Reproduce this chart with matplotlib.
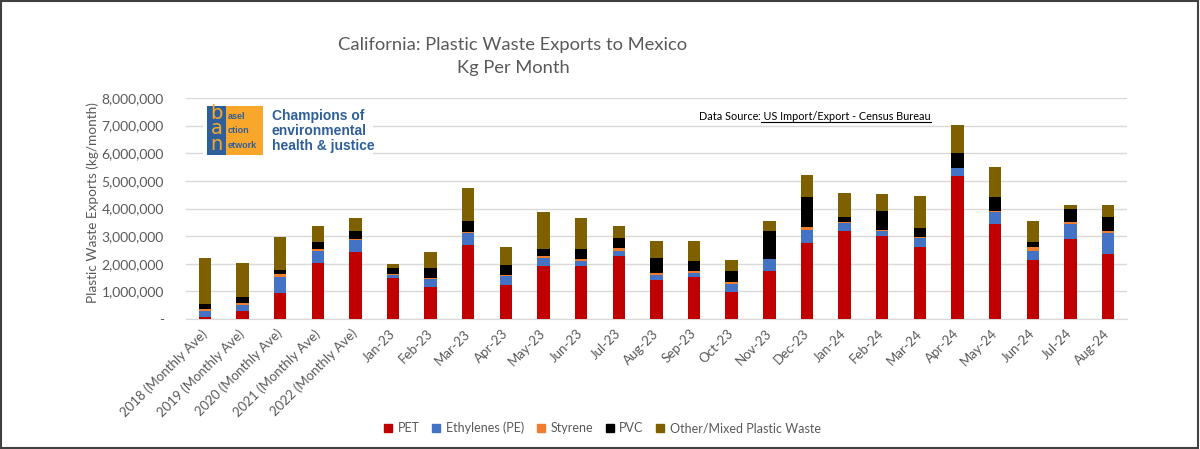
import numpy as np
import matplotlib
matplotlib.use("Agg")
import matplotlib.pyplot as plt
import matplotlib.patches as mpatches
from matplotlib.lines import Line2D
from matplotlib.ticker import FuncFormatter

# --- data (kg per month) ---
categories = [
    "2018 (Monthly Ave)", "2019 (Monthly Ave)", "2020 (Monthly Ave)",
    "2021 (Monthly Ave)", "2022 (Monthly Ave)",
    "Jan-23", "Feb-23", "Mar-23", "Apr-23", "May-23", "Jun-23", "Jul-23",
    "Aug-23", "Sep-23", "Oct-23", "Nov-23", "Dec-23",
    "Jan-24", "Feb-24", "Mar-24", "Apr-24", "May-24", "Jun-24", "Jul-24", "Aug-24",
]
pet = [0.09, 0.28, 0.94, 2.02, 2.43,
       1.47, 1.17, 2.67, 1.24, 1.92, 1.91, 2.27, 1.42, 1.51, 0.97, 1.72, 2.75,
       3.17, 2.99, 2.61, 5.19, 3.44, 2.15, 2.90, 2.35]
ethylenes = [0.19, 0.21, 0.57, 0.45, 0.42,
             0.13, 0.28, 0.46, 0.33, 0.30, 0.20, 0.21, 0.17, 0.17, 0.31, 0.45, 0.49,
             0.29, 0.18, 0.32, 0.26, 0.43, 0.32, 0.55, 0.77]
styrene = [0.10, 0.10, 0.13, 0.08, 0.06,
           0.02, 0.03, 0.03, 0.02, 0.05, 0.06, 0.08, 0.07, 0.06, 0.05, 0.01, 0.08,
           0.04, 0.06, 0.05, 0.03, 0.04, 0.14, 0.05, 0.06]
pvc = [0.17, 0.22, 0.12, 0.23, 0.28,
       0.21, 0.37, 0.38, 0.37, 0.27, 0.36, 0.36, 0.55, 0.36, 0.42, 0.99, 1.09,
       0.20, 0.68, 0.33, 0.52, 0.49, 0.18, 0.50, 0.51]
other = [1.67, 1.22, 1.22, 0.60, 0.46,
         0.17, 0.59, 1.21, 0.65, 1.32, 1.12, 0.43, 0.60, 0.71, 0.39, 0.36, 0.79,
         0.86, 0.60, 1.13, 1.03, 1.10, 0.76, 0.13, 0.44]

series_names = ["PET", "Ethylenes (PE)", "Styrene", "PVC", "Other/Mixed Plastic Waste"]
series_colors = ["#C00000", "#4472C4", "#ED7D31", "#000000", "#7F6000"]

FONT = ["Lato", "DejaVu Sans"]
GREY = "#595959"

plt.rcParams["font.family"] = FONT

fig = plt.figure(figsize=(12, 4.49), dpi=100, facecolor="white")
ax = fig.add_axes([0.155, 0.2895, 0.784, 0.4922])

x = np.arange(len(categories))
bottom = np.zeros(len(categories))
for name, vals, col in zip(series_names, [pet, ethylenes, styrene, pvc, other], series_colors):
    v = np.array(vals) * 1e6
    ax.bar(x, v, width=0.33, bottom=bottom, color=col, label=name, zorder=3)
    bottom += v

ax.set_xlim(-0.5, len(categories) - 0.5)
ax.set_ylim(0, 8e6)
ax.set_yticks(np.arange(0, 8e6 + 1, 1e6))
ax.yaxis.set_major_formatter(FuncFormatter(lambda v, p: "-" if v == 0 else f"{int(v):,}"))
ax.grid(axis="y", color="#d9d9d9", linewidth=1, zorder=0)
ax.set_axisbelow(True)
for s in ["left", "right", "top"]:
    ax.spines[s].set_visible(False)
ax.spines["bottom"].set_color("#d9d9d9")
ax.tick_params(axis="both", length=0, colors=GREY, labelsize=10)
ax.tick_params(axis="y", pad=16)
ax.set_xticks(x)
ax.set_xticklabels(categories, rotation=45, ha="right", va="center",
                   rotation_mode="anchor", fontsize=9.5)
ax.tick_params(axis="x", pad=9)
ax.set_ylabel("Plastic Waste Exports (kg/month)", color=GREY, fontsize=9.8)
ax.yaxis.set_label_coords(-0.093, 0.527)

# title
fig.text(0.4275, 0.90, "California: Plastic Waste Exports to Mexico", ha="center",
         va="center", fontsize=13.2, color=GREY)
fig.text(0.4275, 0.848, "Kg Per Month", ha="center", va="center", fontsize=13.2, color=GREY)

# BAN logo block (white panel covering gridlines)
fig.patches.append(mpatches.Rectangle((203 / 1200, 1 - 158 / 449), 170 / 1200, 56 / 449,
                                      transform=fig.transFigure, facecolor="white",
                                      edgecolor="none", zorder=5))
fig.patches.append(mpatches.Rectangle((207 / 1200, 1 - 155 / 449), 19 / 1200, 49 / 449,
                                      transform=fig.transFigure, facecolor="#2E5F9A",
                                      edgecolor="none", zorder=6))
fig.patches.append(mpatches.Rectangle((226 / 1200, 1 - 155 / 449), 37 / 1200, 49 / 449,
                                      transform=fig.transFigure, facecolor="#F9A72B",
                                      edgecolor="none", zorder=6))
fig.text(216.5 / 1200, 1 - 129 / 449, "b\na\nn", ha="center", va="center", fontsize=14,
         color="#F9A72B", family=["DejaVu Sans"], linespacing=0.78, zorder=7)
fig.text(228 / 1200, 1 - 131 / 449, "asel\nction\network", ha="left", va="center",
         fontsize=6.5, color="#2E5F9A", family=["Liberation Sans"], weight="bold",
         linespacing=1.75, zorder=7)
fig.text(272 / 1200, 1 - 131 / 449, "Champions of\nenvironmental\nhealth & justice",
         ha="left", va="center", fontsize=10, color="#2E5F9A",
         family=["Liberation Sans"], weight="bold", linespacing=1.05, zorder=7)

# data source note with underlined part
t1 = fig.text(699 / 1200, 1 - 117 / 449, "Data Source", ha="left", va="center",
              fontsize=7.8, color="black")
fig.canvas.draw()
r = fig.canvas.get_renderer()
bb1 = t1.get_window_extent(r)
t2 = fig.text(bb1.x1 / 1200, 1 - 117 / 449, ": US Import/Export - Census Bureau",
              ha="left", va="center", fontsize=7.8, color="black")
bb2 = t2.get_window_extent(r)
fig.lines.append(Line2D([bb2.x0 / 1200 + 0.002, bb2.x1 / 1200], [(bb2.y0 + 1) / 449] * 2,
                        transform=fig.transFigure, color="black", linewidth=0.8))

# legend
handles = [Line2D([0], [0], marker="s", linestyle="none", markersize=6,
                  markerfacecolor=c, markeredgecolor=c, label=n)
           for n, c in zip(series_names, series_colors)]
fig.legend(handles=handles, loc="center", bbox_to_anchor=(0.502, 0.047), ncol=5,
           frameon=False, fontsize=9, labelcolor=GREY, handlelength=0.7,
           handletextpad=0.4, columnspacing=1.0)

# outer border
fig.patches.append(mpatches.Rectangle((0.001, 0.002), 0.997, 0.996, transform=fig.transFigure,
                                      fill=False, edgecolor="#404040", linewidth=1.5))

fig.savefig("out.png", dpi=100, facecolor="white")
